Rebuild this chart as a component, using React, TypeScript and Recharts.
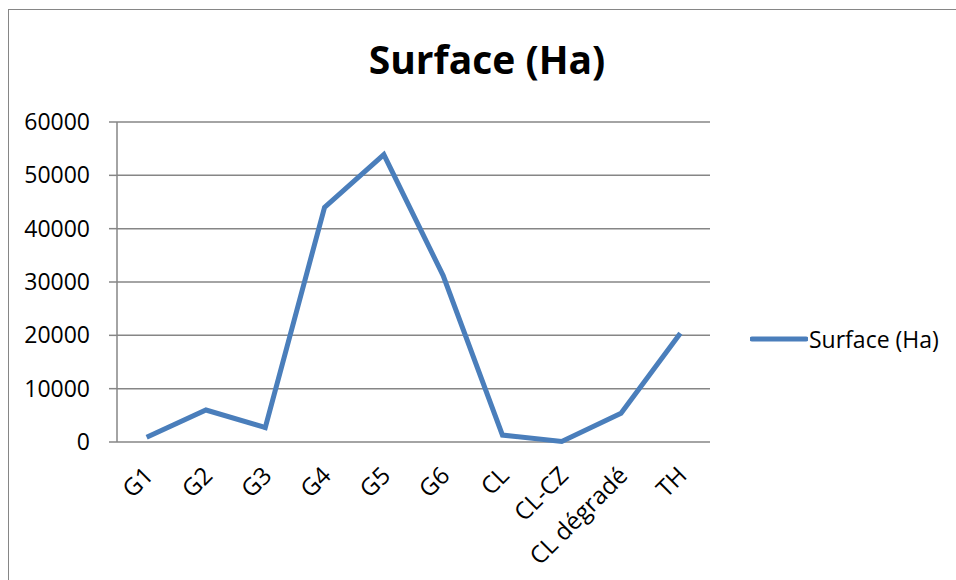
import { LineChart, Line, XAxis, YAxis, CartesianGrid, Legend } from 'recharts';

const categories = ['G1', 'G2', 'G3', 'G4', 'G5', 'G6', 'CL', 'CL-CZ', 'CL dégradé', 'TH'];
const surface = [900, 6000, 2700, 44000, 53900, 31200, 1300, 100, 5400, 20400];
const yTicks = [0, 10000, 20000, 30000, 40000, 50000, 60000];
const seriesName = 'Surface (Ha)';

const data = categories.map((name, idx) => ({ idx, name, surface: surface[idx] }));
// tick marks sit between categories, like Excel
const boundaryTicks = [...categories.map((_, i) => i - 0.5), categories.length - 0.5];
const labelTicks = categories.map((_, i) => i);

const FONT = '"Open Sans", sans-serif';
const GRID = '#868686';
const BLUE = '#4a7ebb';

function CategoryTick({ x, y, payload }: any) {
  const label = categories[payload.value] ?? '';
  const ax = x + 8;
  const ay = y + 35;
  return (
    <text
      x={ax}
      y={ay}
      textAnchor="end"
      transform={`rotate(-45, ${ax}, ${ay})`}
      fontFamily={FONT}
      fontSize={24}
      fill="#000"
    >
      {label}
    </text>
  );
}

function LegendContent() {
  return (
    <div style={{ display: 'flex', alignItems: 'center', fontFamily: FONT, fontSize: 23, color: '#000' }}>
      <svg width={58} height={10} style={{ display: 'block' }}>
        <line x1={2} y1={5} x2={56} y2={5} stroke={BLUE} strokeWidth={5} strokeLinecap="round" />
      </svg>
      <span style={{ marginLeft: 1, whiteSpace: 'nowrap' }}>{seriesName}</span>
    </div>
  );
}

export default function App() {
  return (
    <div
      style={{
        position: 'fixed',
        left: 8,
        top: 9,
        width: 947,
        height: 570,
        borderLeft: `1px solid ${GRID}`,
        borderTop: `1px solid ${GRID}`,
        background: '#fff',
      }}
    >
      <div
        style={{
          position: 'absolute',
          left: 278,
          top: 29,
          width: 400,
          textAlign: 'center',
          fontFamily: FONT,
          fontWeight: 700,
          fontSize: 39,
          lineHeight: 1,
          color: '#000',
        }}
      >
        {seriesName}
      </div>
      <LineChart width={947} height={570} data={data} margin={{ top: 112, right: 46, bottom: 38, left: 0 }}>
        <CartesianGrid horizontal vertical={false} stroke={GRID} strokeWidth={1.5} xAxisId="grid" />
        <XAxis
          xAxisId="grid"
          type="number"
          dataKey="idx"
          domain={[-0.5, categories.length - 0.5]}
          ticks={boundaryTicks}
          tick={false}
          tickSize={8}
          height={0}
          axisLine={{ stroke: GRID, strokeWidth: 1.5 }}
          tickLine={{ stroke: GRID, strokeWidth: 1.5 }}
        />
        <XAxis
          xAxisId="lab"
          type="number"
          dataKey="idx"
          domain={[-0.5, categories.length - 0.5]}
          ticks={labelTicks}
          interval={0}
          height={100}
          axisLine={false}
          tickLine={false}
          tickSize={0}
          tickMargin={0}
          tick={<CategoryTick />}
        />
        <YAxis
          width={108}
          domain={[0, 60000]}
          ticks={yTicks}
          interval={0}
          tickSize={8}
          tickMargin={19}
          axisLine={{ stroke: GRID, strokeWidth: 1.5 }}
          tickLine={{ stroke: GRID, strokeWidth: 1.5 }}
          tick={{ fontFamily: FONT, fontSize: 23, fill: '#000' }}
        />
        <Legend
          layout="vertical"
          align="right"
          verticalAlign="middle"
          content={<LegendContent />}
          wrapperStyle={{ width: 200, left: 741, right: 'auto', top: 313 }}
        />
        <Line
          xAxisId="grid"
          type="linear"
          dataKey="surface"
          name={seriesName}
          stroke={BLUE}
          strokeWidth={5}
          dot={false}
          activeDot={false}
          isAnimationActive={false}
        />
      </LineChart>
    </div>
  );
}
